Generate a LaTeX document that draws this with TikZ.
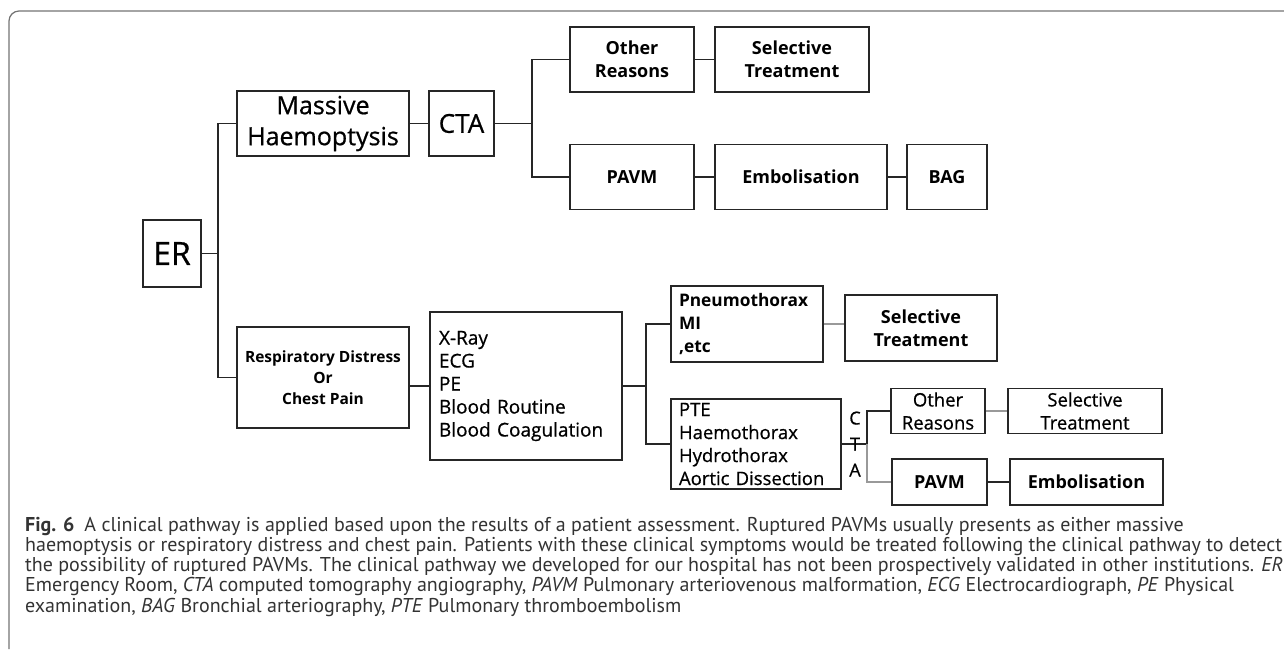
\documentclass[tikz,border=0pt]{standalone}
\usepackage{fontspec}
\setmainfont{Open Sans}
\newfontfamily\capfont{PT Sans}
\newfontfamily\medfont[FakeBold=0.7]{Open Sans}
\usepackage{xcolor}
\usetikzlibrary{positioning}

\tikzset{
  box/.style={draw=black!85, line width=1.1pt, align=center, inner sep=0pt},
  listbox/.style={box, align=left, inner xsep=8pt},
  link/.style={draw=black!85, line width=1.1pt},
  softlink/.style={draw=black!40, line width=1.1pt},
  big/.style={font=\medfont\fontsize{25}{31}\selectfont},
  mid/.style={font=\bfseries\fontsize{18}{23}\selectfont},
  plain/.style={font=\medfont\fontsize{18.5}{23}\selectfont},
}

\begin{document}
\begin{tikzpicture}[x=1pt, y=-1pt]
  \useasboundingbox (0,0) rectangle (1284,649);
  \draw[black!55, line width=1.2pt, rounded corners=10] (9,649) -- (9,11) -- (1284,11);

  % upper branch
  \node[box, minimum width=58, minimum height=67, font=\medfont\fontsize{32}{36}\selectfont] (er) at (172,253.5) {ER};
  \node[box, big, minimum width=172, minimum height=65] (mh) at (323,123.5) {Massive\\Haemoptysis};
  \node[box, minimum width=65, minimum height=65, font=\medfont\fontsize{26}{30}\selectfont] (cta) at (461.5,123.5) {CTA};
  \node[box, mid, minimum width=124, minimum height=65] (other) at (632,59.5) {Other\\Reasons};
  \node[box, mid, minimum width=154, minimum height=65] (seltop) at (792,59.5) {Selective\\Treatment};
  \node[box, mid, minimum width=124, minimum height=65] (pavm) at (632,177) {PAVM};
  \node[box, mid, minimum width=172, minimum height=65] (embol) at (801,177) {Embolisation};
  \node[box, mid, minimum width=80, minimum height=65] (bag) at (947,177) {BAG};

  % lower branch
  \node[box, minimum width=172, minimum height=101, font=\bfseries\fontsize{15.5}{21}\selectfont] (resp) at (323,377.5) {Respiratory Distress\\Or\\Chest Pain};
  \node[listbox, font=\medfont\fontsize{19}{23}\selectfont, text width=174, minimum height=148, inner xsep=9pt] (tests) at (526,386) {X-Ray\\ECG\\PE\\Blood Routine\\Blood Coagulation};
  \node[listbox, font=\bfseries\fontsize{17.3}{23}\selectfont, text width=136, minimum height=76] (pneu) at (747,324) {Pneumothorax\\MI\\,etc};
  \node[box, mid, minimum width=152, minimum height=66] (selmid) at (921,328) {Selective\\Treatment};
  \node[listbox, plain, text width=154, minimum height=90] (pte) at (756,444) {PTE\\Haemothorax\\Hydrothorax\\Aortic Dissection};
  \node[box, plain, minimum width=94, minimum height=45] (other2) at (938,411) {Other\\Reasons};
  \node[box, plain, minimum width=154, minimum height=45] (selbot) at (1085,411) {Selective\\Treatment};
  \node[box, mid, minimum width=95, minimum height=46] (pavm2) at (939.5,482) {PAVM};
  \node[box, mid, minimum width=153, minimum height=46] (embol2) at (1086.5,482) {Embolisation};

  % connectors
  \coordinate (fork1) at (218,253.5);
  \coordinate (fork2) at (532,123.5);
  \coordinate (fork3) at (646,386);
  \coordinate (fork4) at (867,444);
  \draw[link] (er) -- (fork1);
  \draw[link] (mh.west) -| (fork1) |- (resp.west);
  \draw[link] (mh) -- (cta);
  \draw[link] (cta) -- (fork2);
  \draw[link] (other.west) -| (fork2) |- (pavm.west);
  \draw[link] (other) -- (seltop);
  \draw[link] (pavm) -- (embol);
  \draw[link] (embol) -- (bag);
  \draw[link] (resp.east |- tests.west) -- (tests.west);
  \draw[link] (tests) -- (fork3);
  \draw[link] (pneu.west) -| (fork3) |- (pte.west);
  \draw[softlink] (pneu.east) -- (pneu.east -| selmid.west);
  \draw[link] (pte) -- (fork4);
  \draw[link] (other2.west) -| (fork4);
  \draw[softlink] (fork4) |- (pavm2.west);
  \draw[softlink] (other2) -- (selbot);
  \draw[link] (pavm2) -- (embol2);
  \node[align=center, inner sep=0pt, font=\medfont\fontsize{18}{26}\selectfont] (ctaword) at (855,444) {C\\T\\A};

  % caption
  \node[anchor=base west, align=left, inner sep=0pt, text=black!80,
        font=\capfont\fontsize{20}{20.2}\selectfont] (caption) at (25,612)
  {\textbf{Fig. 6}\enspace A clinical pathway is applied based upon the results of a patient assessment. Ruptured PAVMs usually presents as either massive\\
   haemoptysis or respiratory distress and chest pain. Patients with these clinical symptoms would be treated following the clinical pathway to detect\\
   the possibility of ruptured PAVMs. The clinical pathway we developed for our hospital has not been prospectively validated in other institutions. \textit{ER}\\
   Emergency Room, \textit{CTA} computed tomography angiography, \textit{PAVM} Pulmonary arteriovenous malformation, \textit{ECG} Electrocardiograph, \textit{PE} Physical\\
   examination, \textit{BAG} Bronchial arteriography, \textit{PTE} Pulmonary thromboembolism};
\end{tikzpicture}
\end{document}
